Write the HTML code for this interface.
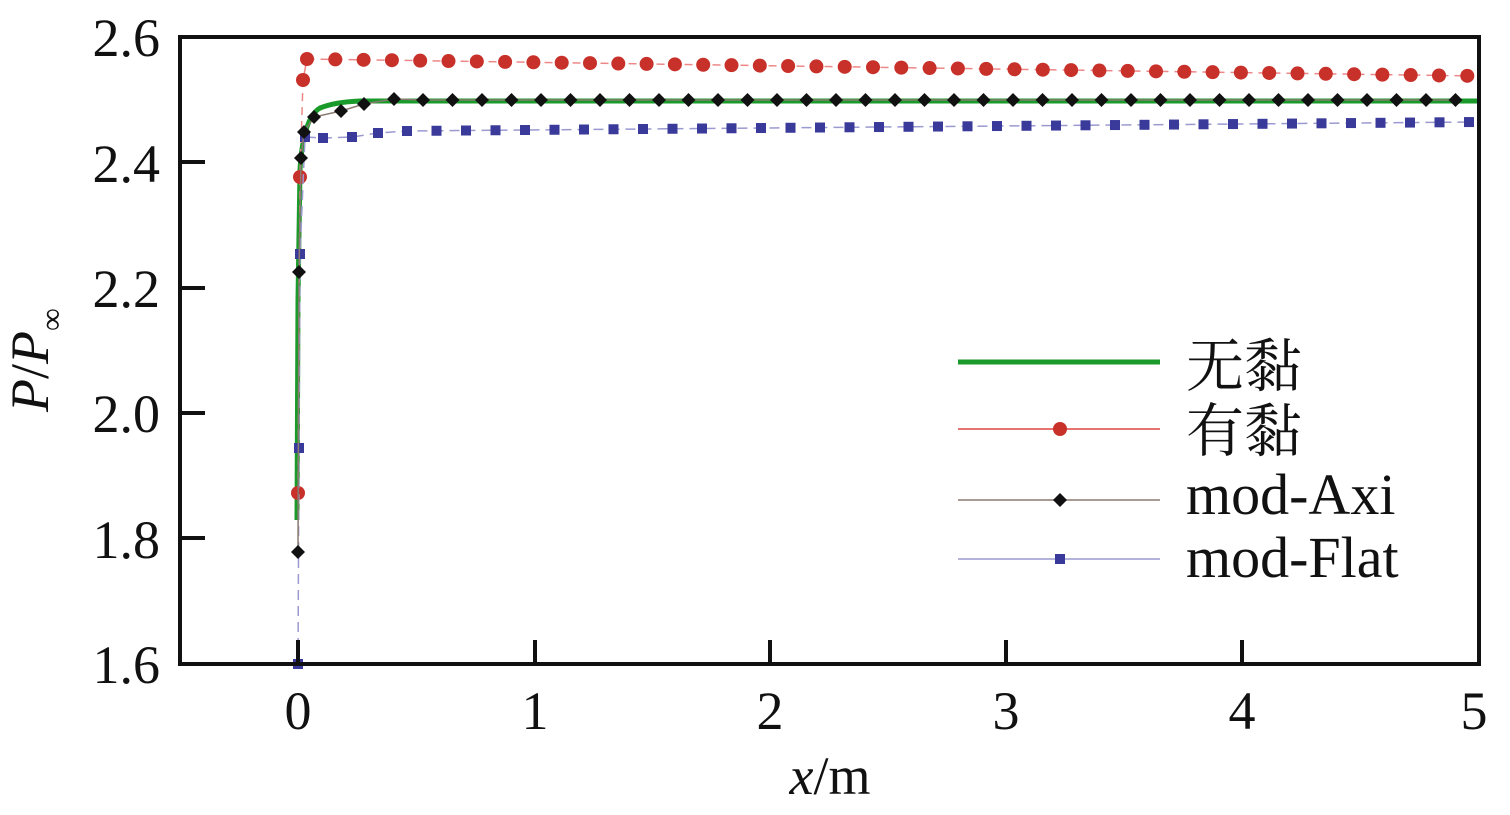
<!DOCTYPE html><html><head><meta charset="utf-8"><style>body{margin:0;background:#fff}svg{display:block}</style></head><body>
<svg id="s" width="1510" height="815" xmlns="http://www.w3.org/2000/svg" font-family="Liberation Serif, Noto Serif CJK SC, serif">
<g id="d"></g>
<rect x="180" y="37" width="1299" height="627" fill="none" stroke="#111" stroke-width="4"/>
<g stroke="#111" stroke-width="4">
<line x1="180" y1="162" x2="205" y2="162"/><line x1="180" y1="288" x2="205" y2="288"/><line x1="180" y1="413" x2="205" y2="413"/><line x1="180" y1="538" x2="205" y2="538"/>
<line x1="298" y1="664" x2="298" y2="640"/><line x1="535" y1="664" x2="535" y2="640"/><line x1="770" y1="664" x2="770" y2="640"/><line x1="1006" y1="664" x2="1006" y2="640"/><line x1="1242" y1="664" x2="1242" y2="640"/>
</g>
<g font-size="54" fill="#111" text-anchor="end">
<text x="160" y="56">2.6</text><text x="160" y="182">2.4</text><text x="160" y="307">2.2</text><text x="160" y="432">2.0</text><text x="160" y="558">1.8</text><text x="160" y="683">1.6</text></g>
<g font-size="54" fill="#111" text-anchor="middle">
<text x="298" y="729">0</text><text x="535" y="729">1</text><text x="770" y="729">2</text><text x="1006" y="729">3</text><text x="1242" y="729">4</text><text x="1474" y="729">5</text>
<text x="830" y="794"><tspan font-style="italic">x</tspan>/m</text></g>
<text transform="translate(48,412) rotate(-90)" font-size="54" fill="#111"><tspan font-style="italic">P</tspan>/<tspan font-style="italic">P</tspan><tspan font-size="32" dy="14">∞</tspan></text>
<g font-size="58" fill="#111">
<line x1="958" y1="362" x2="1160" y2="362" stroke="#1a9a2a" stroke-width="5"/><text x="1186" y="386" font-family="Noto Serif CJK SC, serif">无黏</text>
<line x1="958" y1="429" x2="1160" y2="429" stroke="#d44" stroke-width="1.5"/><circle cx="1060" cy="429" r="7" fill="#c8302a"/><text x="1186" y="451" font-family="Noto Serif CJK SC, serif">有黏</text>
<line x1="958" y1="500" x2="1160" y2="500" stroke="#8a7a70" stroke-width="1.5"/><path d="M1060 493l7 7-7 7-7-7z" fill="#111"/><text x="1186" y="514">mod-Axi</text>
<line x1="958" y1="559" x2="1160" y2="559" stroke="#9a9ad0" stroke-width="1.5"/><rect x="1055" y="554" width="10" height="10" fill="#3a3a9a"/><text x="1186" y="577">mod-Flat</text>
</g>
</svg>
<script>
const d=document.getElementById('d');let h='';
h+='<path d="M297 520 L298 300 L300 170 Q303 118 320 108 Q335 102 360 101 L1479 101" fill="none" stroke="#1a9a2a" stroke-width="5"/>';
let rp=[[298,493],[300,177],[303,80]];for(let x=307;x<1480;x+=28.3)rp.push([x,59+17*(x-307)/1170]);
h+='<polyline points="'+rp.map(p=>p.join(',')).join(' ')+'" fill="none" stroke="#e88" stroke-width="1.5" stroke-dasharray="8 6"/>';
rp.forEach(p=>h+=`<circle cx="${p[0]}" cy="${p[1]}" r="7" fill="#c8302a"/>`);
let bp=[[298,664],[299,448],[300,254],[305,137],[323,138],[352,137],[378,133]];for(let x=407;x<1480;x+=29.5)bp.push([x,131-9*(x-407)/1070]);
h+='<polyline points="'+bp.map(p=>p.join(',')).join(' ')+'" fill="none" stroke="#9a9ad0" stroke-width="1.5" stroke-dasharray="10 6"/>';
bp.forEach(p=>h+=`<rect x="${p[0]-5}" y="${p[1]-5}" width="10" height="10" fill="#3a3a9a"/>`);
let kp=[[298,552],[299,272],[301,158],[304,132],[314,117],[341,111],[364,104],[394,99]];for(let x=423;x<1480;x+=29.5)kp.push([x,100]);
h+='<polyline points="'+kp.map(p=>p.join(',')).join(' ')+'" fill="none" stroke="#8a7a70" stroke-width="1.5"/>';
kp.forEach(p=>h+=`<path d="M${p[0]} ${p[1]-7}l7 7-7 7-7-7z" fill="#111"/>`);
d.innerHTML=h;
</script>
</body></html>
